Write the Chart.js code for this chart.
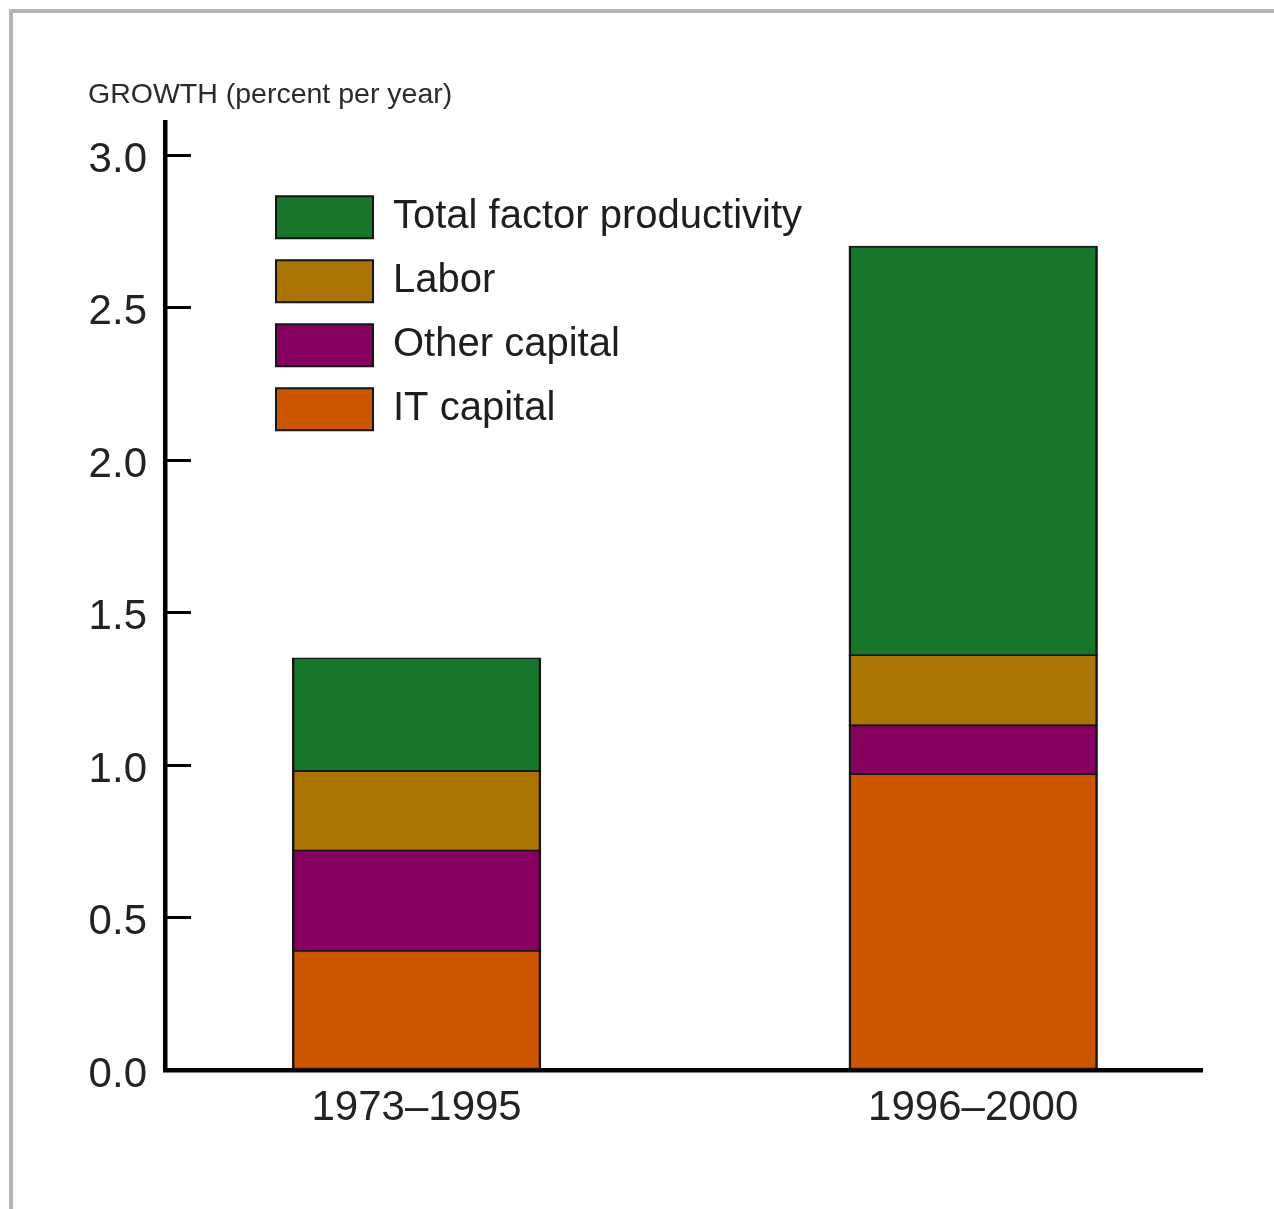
<!DOCTYPE html>
<html><head><meta charset="utf-8">
<script src="https://cdn.jsdelivr.net/npm/chart.js@4.4.1/dist/chart.umd.min.js"></script>
<style>
html,body{margin:0;padding:0;background:#fff;}
#wrap{position:relative;width:1274px;height:1209px;overflow:hidden;background:#fff;}
#frame{position:absolute;left:9px;top:9px;right:-10px;bottom:-10px;border-left:4px solid #b5b5b5;border-top:4px solid #b5b5b5;pointer-events:none;}
canvas{position:absolute;left:0;top:0;}
</style></head><body>
<div id="wrap"><canvas id="c" width="1274" height="1209"></canvas><div id="frame"></div></div>
<script>
// ---- data ----
const categories = ['1973\u20131995', '1996\u20132000'];
const itCapital = [0.39, 0.97];
const otherCapital = [0.33, 0.16];
const labor = [0.26, 0.23];
const totalFactorProductivity = [0.37, 1.34];
const seriesNames = ['IT capital', 'Other capital', 'Labor', 'Total factor productivity'];
const yTickValues = [0, 0.5, 1.0, 1.5, 2.0, 2.5, 3.0];
const yTitle = 'GROWTH (percent per year)';

// ---- styles ----
const seriesColors = ['#cc5500', '#85005f', '#ac7404', '#18762a'];
const FONT = '"Liberation Sans", Arial, sans-serif';

const seriesValues = [itCapital, otherCapital, labor, totalFactorProductivity];
const datasets = seriesValues.map((vals, s) => ({
  label: seriesNames[s],
  data: vals.map((v, i) => ({x: i, y: v})),
  backgroundColor: seriesColors[s],
  borderColor: '#151515',
  borderWidth: {top: 1.6, bottom: 1.6, left: 2.5, right: 2.5},
  borderSkipped: false,
  inflateAmount: 0.8,
  categoryPercentage: 1,
  barPercentage: 0.445
}));

const legendMover = {
  id: 'legendMover',
  afterLayout(chart) {
    const lg = chart.legend, ca = chart.chartArea;
    const w = lg.width, h = lg.height;
    lg.left = ca.left + 89; lg.top = ca.top + 52;
    lg.right = lg.left + w; lg.bottom = lg.top + h;
  }
};

new Chart(document.getElementById('c'), {
  type: 'bar',
  data: { datasets },
  plugins: [legendMover],
  options: {
    responsive: false,
    devicePixelRatio: 1,
    animation: false,
    events: [],
    layout: { padding: { left: 88, right: 72, top: 20, bottom: 0 } },
    plugins: {
      tooltip: { enabled: false },
      title: {
        display: true, text: yTitle, align: 'start', color: '#2a2a2a',
        font: { family: FONT, size: 28.5, weight: 'normal' },
        padding: { top: 58, bottom: 10 }
      },
      legend: {
        position: 'chartArea', align: 'start', reverse: true,
        labels: {
          color: '#1e1e1e', boxWidth: 97, boxHeight: 42, padding: 22,
          font: { family: FONT, size: 40, weight: 'normal' }
        }
      }
    },
    scales: {
      x: {
        type: 'linear', stacked: true, offset: false, min: -0.452, max: 1.411,
        afterBuildTicks: (scale) => { scale.ticks = categories.map((c, i) => ({value: i})); },
        afterFit: (scale) => { scale.height = 139; },
        grid: { display: false, offset: false },
        border: { display: true, color: '#000', width: 4.5 },
        ticks: {
          padding: 5, color: '#222', maxRotation: 0, autoSkip: false,
          font: { family: FONT, size: 42, weight: 'normal' },
          callback: (v) => categories[v] ?? ''
        }
      },
      y: {
        type: 'linear', stacked: true, min: 0, max: 3.108,
        afterBuildTicks: (scale) => { scale.ticks = yTickValues.map(v => ({value: v})); },
        afterFit: (scale) => { scale.width = 77; },
        grid: { drawOnChartArea: false, drawTicks: true, tickLength: -26, color: '#000', lineWidth: 3 },
        border: { display: true, color: '#000', width: 4.5 },
        ticks: {
          padding: 44, color: '#222', labelOffset: 5,
          font: { family: FONT, size: 42, weight: 'normal' },
          callback: (v) => Number(v).toFixed(1)
        }
      }
    }
  }
});
</script>
</body></html>
